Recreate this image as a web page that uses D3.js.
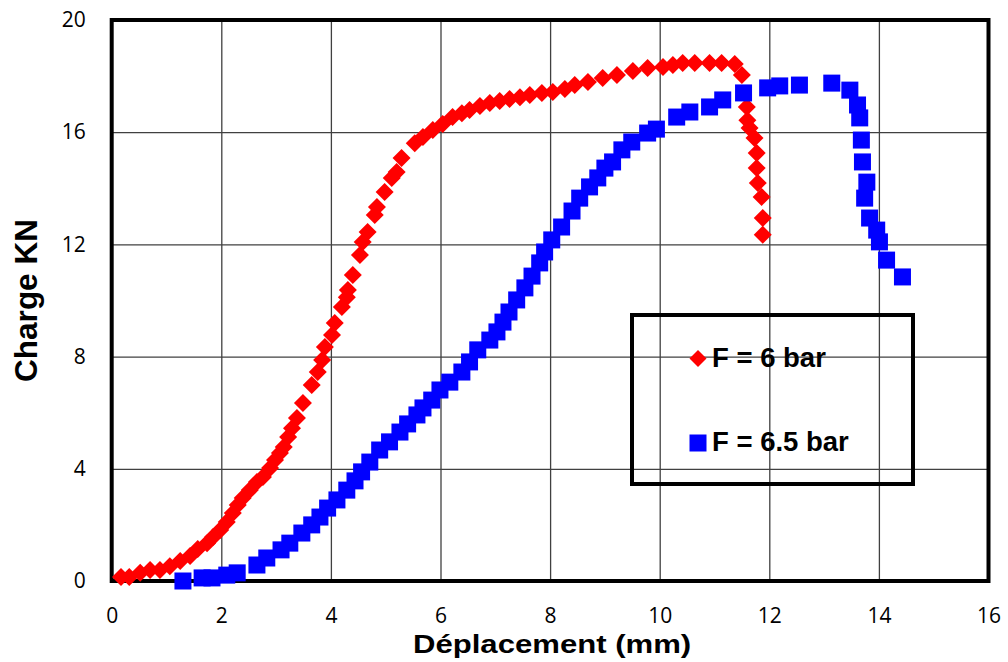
<!DOCTYPE html>
<html>
<head>
<meta charset="utf-8">
<script src="https://cdn.jsdelivr.net/npm/d3@7"></script>
<style>
  html, body { margin: 0; padding: 0; background: #fff; }
  svg { display: block; }
</style>
</head>
<body>
<svg id="chart" width="1008" height="662"></svg>
<script>
// ---- Data ----
const series6X = [0.17,0.32,0.52,0.70,0.88,1.06,1.25,1.43,1.57,1.74,1.85,1.98,2.10,2.21,2.30,2.39,2.52,2.65,2.76,2.89,2.98,3.07,3.14,3.22,3.29,3.38,3.49,3.65,3.76,3.84,3.89,4.02,4.07,4.20,4.29,4.31,4.40,4.53,4.58,4.67,4.80,4.84,4.98,5.11,5.20,5.29,5.53,5.68,5.86,6.04,6.22,6.39,6.53,6.72,6.90,7.08,7.26,7.45,7.63,7.85,8.05,8.27,8.45,8.69,8.96,9.22,9.51,9.78,10.06,10.24,10.42,10.64,10.91,11.13,11.37,11.50,11.59,11.60,11.64,11.73,11.77,11.77,11.79,11.86,11.88,11.88];
const series6Y = [0.14,0.14,0.29,0.39,0.39,0.53,0.71,0.89,1.14,1.35,1.57,1.82,2.10,2.42,2.71,2.96,3.24,3.53,3.71,4.03,4.31,4.56,4.78,5.13,5.45,5.81,6.35,6.99,7.45,7.88,8.34,8.77,9.20,9.77,10.12,10.37,10.91,11.62,12.09,12.44,13.05,13.33,13.87,14.37,14.58,15.08,15.61,15.83,16.08,16.29,16.54,16.68,16.79,16.93,17.04,17.11,17.18,17.25,17.33,17.40,17.43,17.54,17.68,17.79,17.93,18.04,18.18,18.29,18.32,18.40,18.47,18.47,18.47,18.47,18.43,18.04,16.90,16.43,16.15,15.79,15.26,14.72,14.19,13.69,12.94,12.34];

const series65X = [1.30,1.65,1.83,2.10,2.29,2.65,2.83,3.09,3.25,3.47,3.65,3.80,3.94,4.11,4.29,4.44,4.56,4.71,4.89,5.07,5.26,5.40,5.57,5.68,5.84,5.99,6.17,6.39,6.53,6.68,6.90,7.03,7.14,7.25,7.39,7.54,7.67,7.81,7.90,8.03,8.21,8.40,8.54,8.72,8.87,9.00,9.14,9.31,9.49,9.78,9.94,10.31,10.55,10.91,11.15,11.53,11.97,12.19,12.55,13.14,13.47,13.61,13.65,13.68,13.70,13.78,13.74,13.83,13.96,14.01,14.14,14.43];
const series65Y = [0.00,0.11,0.11,0.21,0.29,0.57,0.82,1.11,1.35,1.71,2.00,2.28,2.60,2.89,3.24,3.57,3.89,4.24,4.67,4.96,5.31,5.60,5.92,6.17,6.45,6.81,7.09,7.45,7.81,8.24,8.59,8.88,9.23,9.59,10.02,10.45,10.87,11.34,11.73,12.16,12.62,13.19,13.65,14.05,14.37,14.72,14.94,15.37,15.65,15.97,16.11,16.54,16.72,16.90,17.15,17.40,17.58,17.65,17.68,17.75,17.50,16.97,16.51,15.72,14.94,14.22,13.65,12.94,12.51,12.09,11.44,10.84];

const xTicks = [0,2,4,6,8,10,12,14,16];
const yTicks = [0,4,8,12,16,20];
const seriesNames = ["F = 6 bar", "F = 6.5 bar"];
const xTitle = "Déplacement (mm)";
const yTitle = "Charge KN";

// ---- Layout ----
const svg = d3.select("#chart");
const L = 111.7, R = 988.5, T = 20, B = 581;
const x = d3.scaleLinear().domain([0,16]).range([L, R]);
const y = d3.scaleLinear().domain([0,20]).range([B, T]);

const tickFont = "'Open Sans', 'Noto Sans', sans-serif";
const boldFont = "'Liberation Sans', Arial, sans-serif";

// Grid + tick labels via axes
const gx = svg.append("g").attr("transform", `translate(0,${B})`)
  .call(d3.axisBottom(x).tickValues(xTicks).tickFormat(d3.format("d"))
    .tickSize(-(B - T)).tickPadding(27));
const gy = svg.append("g").attr("transform", `translate(${L},0)`)
  .call(d3.axisLeft(y).tickValues(yTicks).tickFormat(d3.format("d"))
    .tickSize(-(R - L)).tickPadding(26));

[gx, gy].forEach(g => {
  g.select(".domain").remove();
  g.selectAll(".tick line").attr("stroke", "#404040").attr("stroke-width", 1.3);
  g.selectAll(".tick text").attr("fill", "#000")
    .style("font-family", tickFont).style("font-size", "21px");
});
gx.selectAll(".tick text").attr("dy", "0.71em");

// Plot frame
svg.append("rect")
  .attr("x", L).attr("y", T).attr("width", R - L).attr("height", B - T)
  .attr("fill", "none").attr("stroke", "#000").attr("stroke-width", 4);

// Markers
const diamond = r => `M0,${-r}L${r},0L0,${r}L${-r},0Z`;
const d6 = series6X.map((v, i) => [v, series6Y[i]]);
const d65 = series65X.map((v, i) => [v, series65Y[i]]);

svg.append("g").selectAll("path").data(d6).join("path")
  .attr("d", diamond(9))
  .attr("transform", d => `translate(${x(d[0])},${y(d[1])})`)
  .attr("fill", "#ff0000");

const sq = 17;
svg.append("g").selectAll("rect").data(d65).join("rect")
  .attr("x", d => x(d[0]) - sq / 2).attr("y", d => y(d[1]) - sq / 2)
  .attr("width", sq).attr("height", sq)
  .attr("fill", "#0000ff");

// Legend
const lg = svg.append("g");
lg.append("rect").attr("x", 632).attr("y", 315).attr("width", 281).attr("height", 169)
  .attr("fill", "none").attr("stroke", "#000").attr("stroke-width", 4);
lg.append("path").attr("d", diamond(8.5)).attr("transform", "translate(698,358.5)").attr("fill", "#ff0000");
lg.append("rect").attr("x", 689.5).attr("y", 434.5).attr("width", 17).attr("height", 17).attr("fill", "#0000ff");
lg.selectAll("text").data(seriesNames).join("text")
  .attr("x", 712).attr("y", (d, i) => i === 0 ? 367 : 451)
  .style("font-family", boldFont).style("font-weight", "bold").style("font-size", "27.5px")
  .attr("fill", "#000").text(d => d);

// Axis titles
svg.append("text")
  .attr("transform", `translate(${(L + R) / 2 + 2},653) scale(1.22,1)`)
  .attr("text-anchor", "middle")
  .style("font-family", boldFont).style("font-weight", "bold").style("font-size", "25.5px")
  .text(xTitle);
svg.append("text")
  .attr("transform", `translate(37,${(T + B) / 2}) rotate(-90)`)
  .attr("text-anchor", "middle")
  .style("font-family", boldFont).style("font-weight", "bold").style("font-size", "31.5px")
  .text(yTitle);
</script>
</body>
</html>
